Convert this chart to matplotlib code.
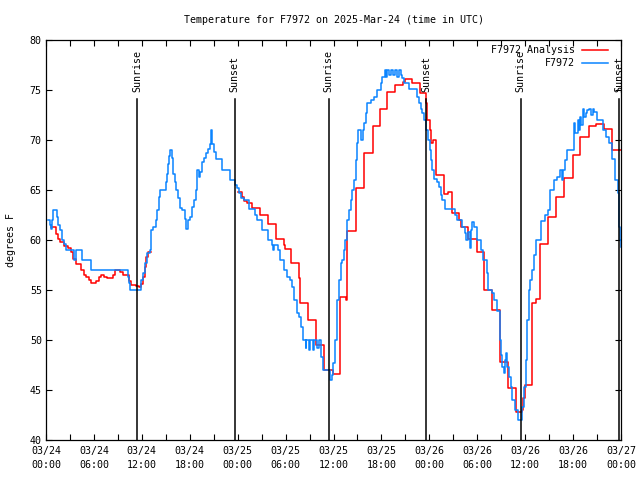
import matplotlib
matplotlib.use("Agg")
import matplotlib.pyplot as plt
import numpy as np

# ---- data (hours since 2025-03-24 00:00 UTC, degrees F) ----
obs_hours = [0.25, 0.45, 0.59, 0.75, 0.92, 1.34, 1.55, 1.76, 2.0, 2.3, 2.5, 3.55, 3.76, 4.5, 5.64,
             10.24, 10.45, 10.54, 11.85, 11.91, 12.12, 12.42, 12.63, 12.96, 13.09, 13.21, 13.46,
             13.8, 13.96, 14.21, 14.3, 14.97, 15.13, 15.26, 15.38, 15.55, 15.72, 15.89, 16.1, 16.3,
             16.51, 16.72, 17.06, 17.35, 17.56, 17.77, 18.06, 18.27, 18.48, 18.73, 18.94, 19.1,
             19.31, 19.57, 19.77, 20.07, 20.28, 20.48, 20.65, 20.82, 21.03, 21.24, 22.03, 23.08,
             23.71, 23.92, 24.12, 24.42, 24.75, 25.38, 26.22, 26.42, 27.05, 27.76, 28.31, 28.4,
             28.5, 29.0, 29.27, 29.77, 30.19, 30.61, 30.81, 31.1, 31.44, 31.73, 31.94, 32.19,
             32.5, 32.6, 32.9, 33.1, 33.4, 33.6, 33.9, 34.2, 34.45, 34.7, 35.54, 35.75, 35.96,
             36.25, 36.46, 36.67, 36.88, 37.08, 37.29, 37.5, 37.71, 37.92, 38.13, 38.34, 38.55,
             38.76, 38.88, 39.09, 39.5, 39.65, 39.8, 40.01, 40.22, 40.64, 41.06, 41.48, 41.9,
             42.1, 42.4, 42.6, 42.7, 43.0, 43.2, 43.5, 43.7, 44.0, 44.2, 44.4, 44.61, 44.82,
             45.45, 46.41, 46.7, 46.91, 47.12, 47.33, 47.54, 47.83, 48.08, 48.25, 48.37, 48.58,
             49.0, 49.2, 49.5, 49.63, 49.92, 51.2, 51.51, 52.13, 52.43, 52.64, 52.85, 53.1,
             53.25, 53.39, 53.6, 53.93, 54.52, 54.73, 55.19, 55.36, 55.9, 56.11, 56.44, 56.82,
             56.94, 57.15, 57.36, 57.5, 57.57, 57.75, 57.99, 58.2, 58.41, 58.7, 59.04, 59.66,
             59.87, 60.08, 60.29, 60.5, 60.62, 60.91, 61.1, 61.33, 61.96, 62.5, 62.8, 63.13,
             63.63, 64.0, 64.38, 64.6, 64.68, 64.97, 65.3, 66.14, 66.25, 66.35, 66.56, 66.7,
             66.89, 67.0, 67.19, 67.4, 67.6, 67.8, 68.02, 68.3, 68.5, 68.65, 68.98, 69.7,
             70.11, 70.53, 70.82, 71.28, 71.58, 71.7, 71.79, 71.91, 72.0]
obs_temps = [62.0, 61.5, 61.1, 62.0, 63.0, 62.3, 61.5, 61.0, 60.0, 59.6, 59.0, 58.0, 59.0, 58.0, 57.0,
             56.3, 55.7, 55.0, 55.8, 56.0, 56.7, 57.7, 58.7, 59.0, 60.1, 61.0, 61.3,
             62.0, 63.0, 64.3, 65.0, 65.8, 66.6, 67.6, 68.4, 69.0, 68.2, 66.6, 65.8, 65.0,
             64.2, 63.2, 63.0, 62.1, 61.1, 62.0, 62.3, 63.3, 64.0, 65.0, 67.0, 66.3,
             66.8, 67.8, 68.2, 68.7, 69.1, 69.6, 71.0, 69.6, 68.8, 68.1, 67.0, 66.0,
             65.5, 65.2, 64.7, 64.2, 64.0, 63.1, 62.5, 62.0, 61.0, 60.0, 59.5, 59.0,
             59.5, 59.0, 58.0, 57.0, 56.3, 56.0, 55.3, 54.0, 52.7, 52.3, 51.3, 50.0,
             49.2, 50.0, 49.0, 50.0, 49.0, 50.0, 49.2, 50.0, 48.3, 47.0, 46.0, 46.5, 47.7,
             50.0, 54.0, 56.0, 57.7, 58.0, 59.0, 60.0, 62.0, 63.0, 64.0, 65.0, 66.0,
             68.0, 69.7, 71.0, 70.0, 71.0, 71.7, 72.7, 73.7, 74.0, 74.3, 75.0, 75.7,
             76.3, 77.0, 76.3, 77.0, 76.5, 77.0, 76.5, 77.0, 76.3, 77.0, 76.5, 76.2, 75.7,
             75.1, 74.3, 73.7, 73.1, 72.7, 72.0, 71.0, 70.0, 69.0, 68.0, 67.0, 66.1,
             65.8, 65.3, 64.5, 64.0, 63.1, 62.5, 62.0, 61.3, 60.7, 60.0, 60.8, 59.2,
             61.0, 61.8, 61.3, 60.0, 59.0, 58.0, 56.7, 55.0, 54.7, 54.0, 52.9, 50.0,
             48.5, 47.3, 46.7, 48.0, 48.7, 47.3, 46.3, 45.3, 44.0, 43.0, 42.0, 43.3,
             45.3, 48.0, 52.0, 55.0, 56.0, 57.0, 58.5, 60.0, 61.9, 62.5, 63.0, 65.0,
             66.0, 66.3, 67.0, 66.0, 67.0, 68.0, 69.0, 71.7, 70.7, 70.7, 72.0, 71.0,
             72.3, 71.5, 73.1, 72.3, 72.7, 73.0, 73.1, 72.5, 73.1, 72.8, 72.0, 71.0,
             70.3, 69.7, 68.1, 66.0, 64.7, 63.3, 61.3, 60.0, 59.3]

ana_hours = [0.6, 1.2, 1.5, 1.76, 2.3, 2.7, 3.1, 3.4, 3.76, 4.4, 4.7, 5.0, 5.35, 5.64, 6.27, 6.6,
             6.9, 7.3, 7.7, 8.36, 8.7, 9.3, 9.7, 10.37, 10.66, 11.3, 11.7, 11.9, 12.12, 12.37,
             12.54, 12.75, 13.0, 13.1,
             24.0, 24.5, 24.75, 25.17, 25.8, 26.84, 27.76, 28.77, 29.77, 29.98, 30.69, 31.65,
             31.78, 32.82, 33.87, 34.83, 35.96, 36.83, 37.55, 37.71, 38.76, 39.8, 40.93, 41.77,
             42.73, 43.65, 44.74, 44.9, 45.86, 46.83, 47.54, 47.75, 48.04, 48.16, 48.45, 48.83,
             49.84, 50.4, 50.88, 51.72, 51.93, 52.89, 53.93, 54.85, 55.81, 56.86, 57.86, 58.82,
             59.6, 59.79, 59.95, 60.83, 61.33, 61.83, 62.92, 63.84, 64.89, 65.93, 66.89, 67.94,
             68.86, 69.9, 70.82, 72.0]
ana_temps = [61.3, 60.6, 60.1, 59.8, 59.4, 59.2, 58.8, 58.1, 57.6, 57.0, 56.5, 56.3, 56.0, 55.7, 55.9, 56.3,
             56.5, 56.3, 56.2, 56.5, 57.0, 56.8, 56.5, 55.9, 55.5, 55.4, 55.3, 55.6, 56.3, 57.3,
             58.3, 58.8, 58.8, np.nan,
             64.8, 64.3, 63.9, 63.7, 63.2, 62.5, 61.6, 60.1, 59.5, 59.1, 57.7, 56.2,
             53.7, 52.0, 49.5, 47.0, 46.6, 54.3, 54.0, 60.9, 65.2, 68.7, 71.4, 73.1,
             74.8, 75.5, 75.8, 76.1, 75.7, 74.7, 73.7, 72.0, 71.0, 69.7, 70.0, 66.5,
             64.6, 64.8, 62.7, 62.0, 61.3, 60.1, 58.8, 55.0, 53.0, 47.8, 45.2, 42.8,
             43.0, 44.2, 45.5, 53.7, 54.1, 59.6, 62.3, 64.3, 66.2, 68.5, 70.3, 71.4,
             71.6, 71.1, 69.0, 69.0]

sun_hours = [11.41, 23.62, 35.41, 47.58, 59.46, 71.75]
sun_labels = ["Sunrise", "Sunset", "Sunrise", "Sunset", "Sunrise", "Sunset"]

xtick_hours = list(range(0, 73, 6))
xtick_labels = ["03/24\n00:00", "03/24\n06:00", "03/24\n12:00", "03/24\n18:00",
                "03/25\n00:00", "03/25\n06:00", "03/25\n12:00", "03/25\n18:00",
                "03/26\n00:00", "03/26\n06:00", "03/26\n12:00", "03/26\n18:00",
                "03/27\n00:00"]
ytick_vals = list(range(40, 81, 5))

FONT = "DejaVu Sans Mono"
FS = 7.2
RED = "#ff0000"
BLUE = "#0a84ff"

fig = plt.figure(figsize=(6.4, 4.8), dpi=100)
ax = fig.add_axes([46 / 640, 40 / 480, 575 / 640, 400 / 480])

ax.plot(ana_hours, ana_temps, drawstyle="steps-post", color=RED, lw=1.1)
ax.plot(obs_hours, obs_temps, drawstyle="steps-post", color=BLUE, lw=1.1)

for h, lab in zip(sun_hours, sun_labels):
    ax.axvline(h, ymin=0, ymax=0.8525, color="black", lw=1.1)
    ax.text(h, 0.87, lab, transform=ax.get_xaxis_transform(), rotation=90,
            ha="center", va="bottom", family=FONT, fontsize=FS)

ax.set_xlim(0, 72)
ax.set_ylim(40, 80)
ax.set_xticks(xtick_hours)
ax.set_xticklabels(xtick_labels, family=FONT, fontsize=FS, linespacing=1.5)
ax.set_xticks(list(range(3, 72, 6)), minor=True)
ax.set_yticks(ytick_vals)
ax.set_yticklabels([str(v) for v in ytick_vals], family=FONT, fontsize=FS)
ax.tick_params(which="both", direction="in", top=True, right=True, length=4.5, width=0.8,
               color="black")
ax.tick_params(axis="x", pad=4)
ax.tick_params(axis="y", pad=3)
for s in ax.spines.values():
    s.set_linewidth(0.9)

# legend (manual, gnuplot style)
tr = ax.transAxes
ax.text(0.92, 0.975, "F7972 Analysis", transform=tr, ha="right", va="center",
        family=FONT, fontsize=FS)
ax.plot([0.932, 0.977], [0.975, 0.975], transform=tr, color=RED, lw=1.1)
ax.text(0.92, 0.9425, "F7972", transform=tr, ha="right", va="center",
        family=FONT, fontsize=FS)
ax.plot([0.932, 0.977], [0.9425, 0.9425], transform=tr, color=BLUE, lw=1.1)

fig.text(333.5 / 640, 1 - 20 / 480, "Temperature for F7972 on 2025-Mar-24 (time in UTC)",
         ha="center", va="center", family=FONT, fontsize=FS)
fig.text(11 / 640, 0.5, "degrees F", rotation=90, ha="center", va="center",
         family=FONT, fontsize=FS)

fig.savefig("out.png", dpi=100)
